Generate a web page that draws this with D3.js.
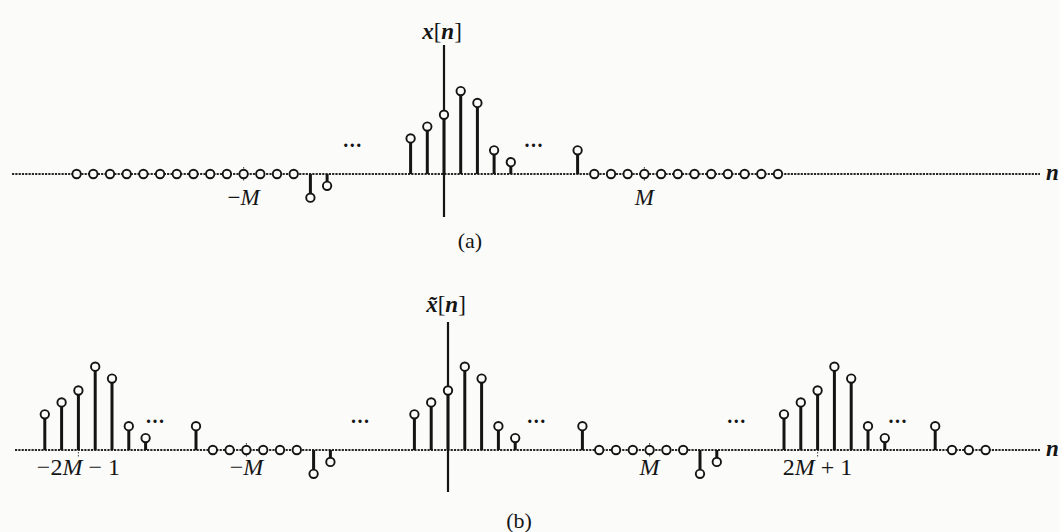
<!DOCTYPE html>
<html>
<head>
<meta charset="utf-8">
<script src="https://cdn.jsdelivr.net/npm/d3@7"></script>
<style>
  html, body { margin: 0; padding: 0; background: #fbfbfa; }
  svg { display: block; }
  text { fill: #151515; }
</style>
</head>
<body>
<svg id="fig" width="1059" height="532"></svg>
<script>
// ---- (a) finite-length sequence x[n] ----
const topStemN      = [-8, -7, -2, -1, 0, 1, 2, 3, 4, 8];
const topStemValues = [-2, -1,  3,  4, 5, 7, 6, 2, 1, 2];
const topZeroN      = d3.range(-22, -8).concat(d3.range(9, 21));
const topDotsN      = [-5.45, 5.4];
const topTicks      = [{ n: -12, label: "\u2212M" }, { n: 12, label: "M" }];

// ---- (b) periodic extension x~[n] ----
const botStemN      = [-24, -23, -22, -21, -20, -19, -18, -15,
                       -8, -7,
                       -2, -1, 0, 1, 2, 3, 4, 8,
                       15, 16,
                       20, 21, 22, 23, 24, 25, 26, 29];
const botStemValues = [3, 4, 5, 7, 6, 2, 1, 2,
                       -2, -1,
                       3, 4, 5, 7, 6, 2, 1, 2,
                       -2, -1,
                       3, 4, 5, 7, 6, 2, 1, 2];
const botZeroN      = d3.range(-14, -8).concat(d3.range(9, 15), d3.range(30, 33));
const botDotsN      = [-17.4, -5.2, 5.3, 17.2, 26.8];
const botTicks      = [{ n: -22, label: "\u22122M \u2212 1" }, { n: -12, label: "\u2212M" },
                       { n: 12, label: "M" }, { n: 22, label: "2M + 1" }];

const ink = "#141414";
const paper = "#fbfbfa";
const R = 4.2;
const svg = d3.select("#fig");

function panel(cfg) {
  const x = d3.scaleLinear().domain([0, 1]).range([cfg.x0, cfg.x0 + cfg.dx]);
  const y = d3.scaleLinear().domain([0, 1]).range([cfg.y0, cfg.y0 - cfg.dy]);
  const g = svg.append("g");

  // dotted horizontal axis
  g.append("line")
    .attr("x1", cfg.axisLeft).attr("x2", 1040)
    .attr("y1", y(0)).attr("y2", y(0))
    .attr("stroke", "#262626").attr("stroke-width", 1.9)
    .attr("stroke-dasharray", "2.2,1.1");

  // vertical axis
  g.append("line")
    .attr("x1", x(0)).attr("x2", x(0))
    .attr("y1", cfg.vTop).attr("y2", cfg.vBottom)
    .attr("stroke", ink).attr("stroke-width", 2.2);

  // small marks at labelled indices
  g.selectAll("line.mark").data(cfg.ticks).join("line")
    .attr("class", "mark")
    .attr("x1", d => x(d.n)).attr("x2", d => x(d.n))
    .attr("y1", y(0) - 7).attr("y2", y(0) + 7)
    .attr("stroke", "#555").attr("stroke-width", 1.1)
    .attr("stroke-dasharray", "1.5,1.5");

  // zero-valued samples sit on the axis
  g.selectAll("circle.zero").data(cfg.zeroN).join("circle")
    .attr("class", "zero")
    .attr("cx", d => x(d)).attr("cy", y(0)).attr("r", R)
    .attr("fill", paper).attr("stroke", ink).attr("stroke-width", 1.9);

  // stems
  const stems = cfg.stemN.map((n, i) => ({ n, v: cfg.stemV[i] }));
  g.selectAll("line.stem").data(stems).join("line")
    .attr("class", "stem")
    .attr("x1", d => x(d.n)).attr("x2", d => x(d.n))
    .attr("y1", y(0))
    .attr("y2", d => y(d.v) + (d.v > 0 ? R : -R))
    .attr("stroke", ink).attr("stroke-width", 3);
  g.selectAll("circle.head").data(stems).join("circle")
    .attr("class", "head")
    .attr("cx", d => x(d.n)).attr("cy", d => y(d.v)).attr("r", R)
    .attr("fill", paper).attr("stroke", ink).attr("stroke-width", 1.9);

  // ellipses
  g.selectAll("text.dots").data(cfg.dotsN).join("text")
    .attr("class", "dots")
    .attr("x", d => x(d)).attr("y", y(2.25))
    .attr("text-anchor", "middle")
    .attr("font-family", "Liberation Serif").attr("font-weight", "bold")
    .attr("font-size", 20).attr("letter-spacing", 1.5)
    .text("...");

  // index labels
  g.selectAll("text.idx").data(cfg.ticks).join("text")
    .attr("class", "idx")
    .attr("x", d => x(d.n)).attr("y", cfg.labelY)
    .attr("text-anchor", "middle")
    .attr("font-family", "Liberation Serif")
    .attr("font-size", cfg.labelSize)
    .each(function (d) {
      const t = d3.select(this);
      d.label.split(/(M)/).forEach(part => {
        if (!part) return;
        t.append("tspan").attr("font-style", part === "M" ? "italic" : "normal").text(part);
      });
    });

  // signal name above the vertical axis (combining tilde for the periodic one)
  const name = g.append("text")
    .attr("x", x(0) - 2).attr("y", cfg.nameY)
    .attr("text-anchor", "middle")
    .attr("font-family", "Liberation Serif").attr("font-size", 23);
  name.append("tspan").attr("font-style", "italic").attr("font-weight", "bold")
    .text(cfg.tilde ? "x\u0303" : "x");
  name.append("tspan").text("[");
  name.append("tspan").attr("font-style", "italic").attr("font-weight", "bold").text("n");
  name.append("tspan").text("]");

  // horizontal axis name
  g.append("text")
    .attr("x", 1046).attr("y", y(0) + 6)
    .attr("font-family", "Liberation Serif").attr("font-style", "italic")
    .attr("font-weight", "bold").attr("font-size", 23)
    .text("n");

  // caption
  g.append("text")
    .attr("x", cfg.capX).attr("y", cfg.capY)
    .attr("text-anchor", "middle")
    .attr("font-family", "Liberation Serif").attr("font-size", 22)
    .text(cfg.caption);
}

panel({
  x0: 444, dx: 16.7, y0: 174, dy: 11.85, axisLeft: 12,
  vTop: 45, vBottom: 217,
  stemN: topStemN, stemV: topStemValues, zeroN: topZeroN, dotsN: topDotsN,
  ticks: topTicks, labelY: 205, labelSize: 23,
  nameY: 39, tilde: false, capX: 470, capY: 248, caption: "(a)"
});

panel({
  x0: 448, dx: 16.8, y0: 450, dy: 11.9, axisLeft: 15,
  vTop: 322, vBottom: 492,
  stemN: botStemN, stemV: botStemValues, zeroN: botZeroN, dotsN: botDotsN,
  ticks: botTicks, labelY: 475, labelSize: 24,
  nameY: 312, tilde: true, capX: 519, capY: 528, caption: "(b)"
});
</script>
</body>
</html>
